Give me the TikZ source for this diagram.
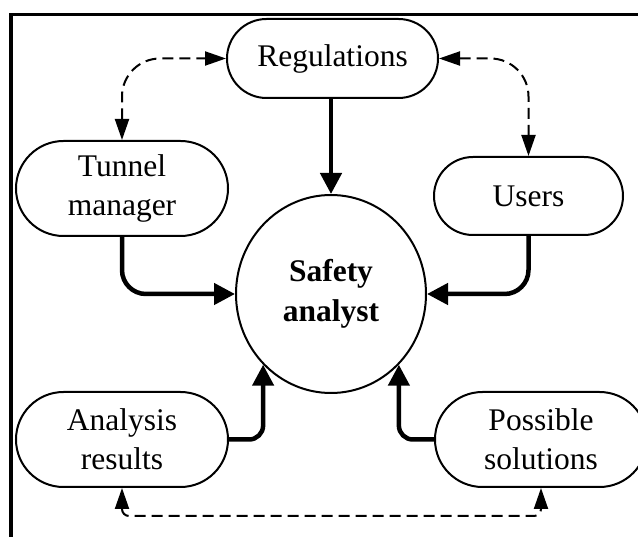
\documentclass[tikz,border=0pt]{standalone}
\usepackage{fontspec}
\setmainfont{Liberation Serif}
\usetikzlibrary{arrows.meta,shapes.geometric}

\tikzset{
  box/.style={draw, line width=2pt, rounded corners=#1, inner sep=0pt, align=center,
    font=\fontsize{31.5}{39}\selectfont},
  hub/.style={draw, ellipse, line width=2pt, minimum width=190pt, minimum height=198pt,
    inner sep=0pt, align=center, font=\fontsize{31.5}{40}\selectfont\bfseries},
  flow/.style={line width=4.5pt, -{Triangle[length=21pt,width=21pt]}},
  link/.style={line width=2pt, dash pattern=on 11pt off 6pt,
    {Triangle[length=21pt,width=14pt]}-{Triangle[length=21pt,width=14pt]}},
  frameline/.style={line width=3.5pt}
}

\begin{document}
\begin{tikzpicture}[x=1pt, y=-1pt]
  \useasboundingbox (0,0) rectangle (638,537);

  % outer frame (left and top edges)
  \draw[frameline] (11,560) -- (11,14.5) -- (660,14.5);

  % nodes
  \node[box=39.5pt, minimum width=211pt, minimum height=79pt] (reg) at (332.5,58.5) {Regulations};
  \node[box=47.5pt, minimum width=212pt, minimum height=95pt] (tm) at (122,188.5) {Tunnel\\manager};
  \node[box=39pt, minimum width=189pt, minimum height=78pt] (us) at (528.5,196) {Users};
  \node[box=47.5pt, minimum width=212pt, minimum height=95pt] (ar) at (122,439.5) {Analysis\\results};
  \node[box=47.5pt, minimum width=212pt, minimum height=95pt] (ps) at (541,439.5) {Possible\\solutions};
  \node[hub] (sa) at (331,294) {Safety\\analyst};

  % inputs to the analyst
  \draw[flow] (sa.north |- reg.south) -- (sa.north);
  \draw[flow, rounded corners=24pt] (tm.south) |- (sa.west);
  \draw[flow, rounded corners=24pt] (us.south) |- (sa.east);
  \draw[flow, rounded corners=14pt] (ar.east) -| (sa.south west);
  \draw[flow, rounded corners=14pt] (ps.west) -| (sa.south east);

  % two-way exchanges
  \draw[link, rounded corners=38pt] (tm.north) |- (reg.west);
  \draw[link, rounded corners=38pt] (reg.east) -| (us.north);
  \draw[link, rounded corners=7pt] (ar.south) -- ++(0,28) -| (ps.south);
\end{tikzpicture}
\end{document}
